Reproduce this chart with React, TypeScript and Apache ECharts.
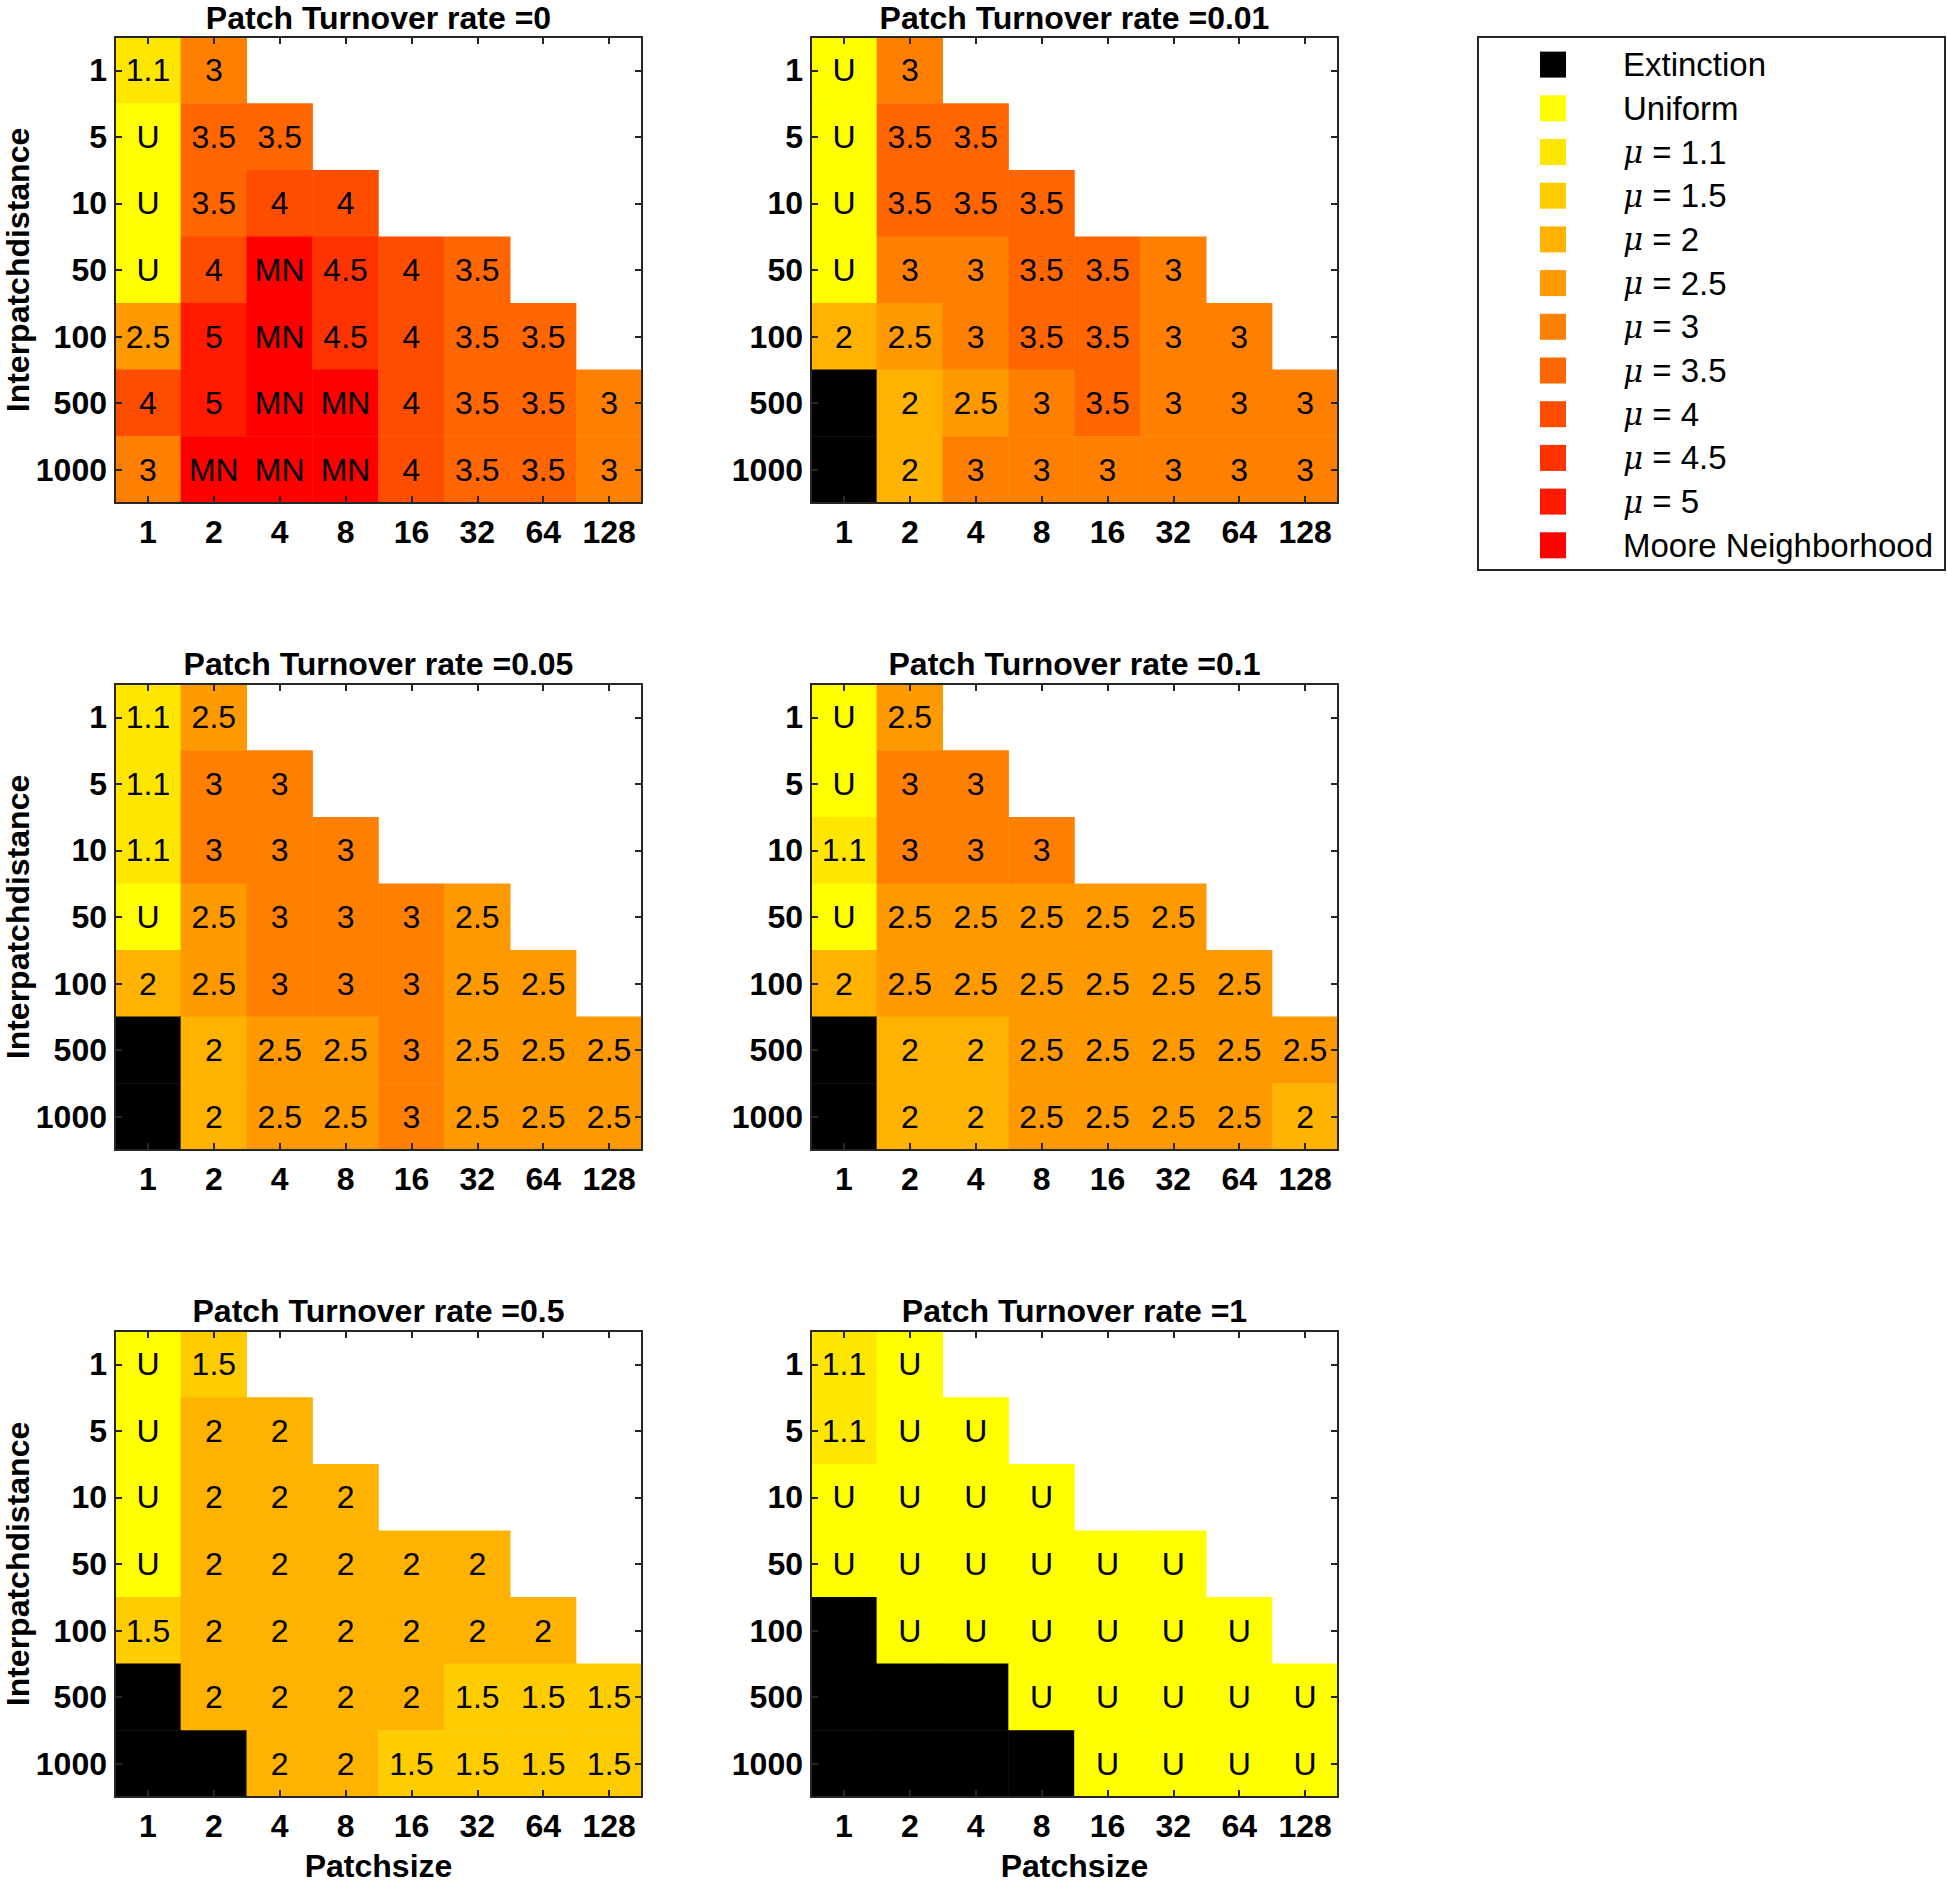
import React, { useEffect, useRef } from "react";
import * as echarts from "echarts";

const X_CATS = ["1", "2", "4", "8", "16", "32", "64", "128"];
const Y_CATS = ["1", "5", "10", "50", "100", "500", "1000"];
const CODES = ["E", "U", "1.1", "1.5", "2", "2.5", "3", "3.5", "4", "4.5", "5", "MN"];
const CODE_COLORS = [
  "#000000", "#FFFF00", "#FFE600", "#FFCC00", "#FFB300", "#FF9900",
  "#FF8000", "#FF6600", "#FF4D00", "#FF3300", "#FF1A00", "#FF0000",
];
const LEGEND_LABELS = [
  "Extinction", "Uniform", "{m|μ} = 1.1", "{m|μ} = 1.5", "{m|μ} = 2", "{m|μ} = 2.5",
  "{m|μ} = 3", "{m|μ} = 3.5", "{m|μ} = 4", "{m|μ} = 4.5", "{m|μ} = 5", "Moore Neighborhood",
];
const RATES = ["0", "0.01", "0.05", "0.1", "0.5", "1"];

// rows top->bottom: interpatch distance 1,5,10,50,100,500,1000 ; columns patchsize 1..128
const RATE_0 = [
  ["1.1", "3"],
  ["U", "3.5", "3.5"],
  ["U", "3.5", "4", "4"],
  ["U", "4", "MN", "4.5", "4", "3.5"],
  ["2.5", "5", "MN", "4.5", "4", "3.5", "3.5"],
  ["4", "5", "MN", "MN", "4", "3.5", "3.5", "3"],
  ["3", "MN", "MN", "MN", "4", "3.5", "3.5", "3"],
];
const RATE_001 = [
  ["U", "3"],
  ["U", "3.5", "3.5"],
  ["U", "3.5", "3.5", "3.5"],
  ["U", "3", "3", "3.5", "3.5", "3"],
  ["2", "2.5", "3", "3.5", "3.5", "3", "3"],
  ["E", "2", "2.5", "3", "3.5", "3", "3", "3"],
  ["E", "2", "3", "3", "3", "3", "3", "3"],
];
const RATE_005 = [
  ["1.1", "2.5"],
  ["1.1", "3", "3"],
  ["1.1", "3", "3", "3"],
  ["U", "2.5", "3", "3", "3", "2.5"],
  ["2", "2.5", "3", "3", "3", "2.5", "2.5"],
  ["E", "2", "2.5", "2.5", "3", "2.5", "2.5", "2.5"],
  ["E", "2", "2.5", "2.5", "3", "2.5", "2.5", "2.5"],
];
const RATE_01 = [
  ["U", "2.5"],
  ["U", "3", "3"],
  ["1.1", "3", "3", "3"],
  ["U", "2.5", "2.5", "2.5", "2.5", "2.5"],
  ["2", "2.5", "2.5", "2.5", "2.5", "2.5", "2.5"],
  ["E", "2", "2", "2.5", "2.5", "2.5", "2.5", "2.5"],
  ["E", "2", "2", "2.5", "2.5", "2.5", "2.5", "2"],
];
const RATE_05 = [
  ["U", "1.5"],
  ["U", "2", "2"],
  ["U", "2", "2", "2"],
  ["U", "2", "2", "2", "2", "2"],
  ["1.5", "2", "2", "2", "2", "2", "2"],
  ["E", "2", "2", "2", "2", "1.5", "1.5", "1.5"],
  ["E", "E", "2", "2", "1.5", "1.5", "1.5", "1.5"],
];
const RATE_1 = [
  ["1.1", "U"],
  ["1.1", "U", "U"],
  ["U", "U", "U", "U"],
  ["U", "U", "U", "U", "U", "U"],
  ["E", "U", "U", "U", "U", "U", "U"],
  ["E", "E", "E", "U", "U", "U", "U", "U"],
  ["E", "E", "E", "E", "U", "U", "U", "U"],
];
const PANELS = [RATE_0, RATE_001, RATE_005, RATE_01, RATE_05, RATE_1];

const FONT = "'Liberation Sans', Arial, Helvetica, sans-serif";
const AX = "#262626";

export default function App() {
  const ref = useRef<HTMLDivElement>(null);
  useEffect(() => {
    if (!ref.current) return;
    const chart = echarts.init(ref.current, undefined, { renderer: "svg" });

    const COL_LEFT = [115, 811];
    const ROW_TOP = [37, 684, 1331];
    const PW = 527;
    const PH = 466;

    const grids: any[] = [];
    const xAxes: any[] = [];
    const yAxes: any[] = [];
    const series: any[] = [];
    const graphics: any[] = [];

    PANELS.forEach((panel, k) => {
      const col = k % 2;
      const row = Math.floor(k / 2);
      const left = COL_LEFT[col];
      const top = ROW_TOP[row];
      grids.push({ left, top, width: PW, height: PH, containLabel: false });

      const line = { show: true, onZero: false, lineStyle: { color: AX, width: 2 } };
      const tick = { show: true, inside: true, alignWithLabel: true, length: 7, lineStyle: { color: AX, width: 2 } };
      const lbl = { fontSize: 32, fontWeight: "bold", color: "#000", fontFamily: FONT };

      xAxes.push({
        type: "category", gridIndex: k, data: X_CATS, position: "bottom", z: 10,
        axisLine: line, axisTick: tick, splitLine: { show: false },
        axisLabel: { ...lbl, margin: 13, interval: 0 },
      });
      xAxes.push({
        type: "category", gridIndex: k, data: X_CATS, position: "top", z: 10,
        axisLine: line, axisTick: tick, splitLine: { show: false },
        axisLabel: { show: false },
      });
      yAxes.push({
        type: "category", gridIndex: k, data: Y_CATS, position: "left", inverse: true, z: 10,
        axisLine: line, axisTick: tick, splitLine: { show: false },
        axisLabel: { ...lbl, margin: 8, interval: 0 },
      });
      yAxes.push({
        type: "category", gridIndex: k, data: Y_CATS, position: "right", inverse: true, z: 10,
        axisLine: line, axisTick: tick, splitLine: { show: false },
        axisLabel: { show: false },
      });

      const data: any[] = [];
      panel.forEach((r, ri) => {
        r.forEach((v, ci) => {
          data.push([ci, ri, CODES.indexOf(v)]);
        });
      });
      series.push({
        type: "heatmap",
        xAxisIndex: 2 * k,
        yAxisIndex: 2 * k,
        data,
        z: 2,
        emphasis: { disabled: true },
        label: {
          show: true,
          fontSize: 32,
          color: "#000",
          fontFamily: FONT,
          formatter: (p: any) => {
            const c = CODES[p.value[2]];
            return c === "E" ? "" : c;
          },
        },
      });

      graphics.push({
        type: "text",
        x: left + PW / 2,
        y: Math.max(top - 20, 18),
        style: {
          text: "Patch Turnover rate =" + RATES[k],
          font: `bold 32px ${FONT}`,
          fill: "#000",
          align: "center",
          verticalAlign: "middle",
        },
      });
      if (col === 0) {
        graphics.push({
          type: "text",
          x: 18,
          y: top + PH / 2,
          rotation: Math.PI / 2,
          style: {
            text: "Interpatchdistance",
            font: `bold 32px ${FONT}`,
            fill: "#000",
            align: "center",
            verticalAlign: "middle",
          },
        });
      }
      if (row === 2) {
        graphics.push({
          type: "text",
          x: left + PW / 2,
          y: 1866,
          style: {
            text: "Patchsize",
            font: `bold 32px ${FONT}`,
            fill: "#000",
            align: "center",
            verticalAlign: "middle",
          },
        });
      }
    });

    // legend
    const LX = 1478, LY = 37, LW = 467, LH = 533;
    graphics.push({
      type: "rect",
      shape: { x: LX, y: LY, width: LW, height: LH },
      style: { fill: "#fff", stroke: AX, lineWidth: 2 },
      z: 1,
    });
    LEGEND_LABELS.forEach((lab, i) => {
      const cy = 64.6 + i * 43.7;
      graphics.push({
        type: "rect",
        shape: { x: 1540, y: cy - 13, width: 26, height: 26 },
        style: { fill: CODE_COLORS[i] },
        z: 2,
      });
      graphics.push({
        type: "text",
        x: 1623,
        y: cy,
        z: 2,
        style: {
          text: lab,
          font: `33px ${FONT}`,
          fill: "#000",
          align: "left",
          verticalAlign: "middle",
          rich: {
            m: { fontFamily: "'DejaVu Serif', 'Liberation Serif', serif", fontStyle: "italic", fontSize: 31, fill: "#000" },
          },
        },
      });
    });

    chart.setOption({
      animation: false,
      backgroundColor: "#fff",
      grid: grids,
      xAxis: xAxes,
      yAxis: yAxes,
      visualMap: {
        type: "piecewise",
        show: false,
        dimension: 2,
        seriesIndex: series.map((_, i) => i),
        pieces: CODES.map((c, i) => ({ value: i, color: CODE_COLORS[i] })),
      },
      series,
      graphic: graphics,
    });
    return () => chart.dispose();
  }, []);
  return (
    <div
      ref={ref}
      style={{ position: "fixed", left: 0, top: 0, width: 1947, height: 1883 }}
    />
  );
}
